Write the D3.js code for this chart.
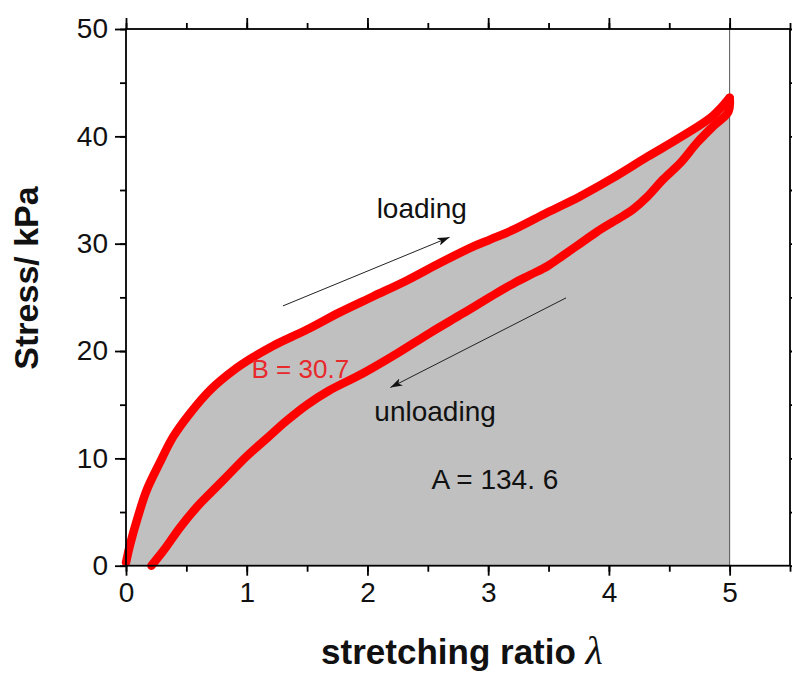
<!DOCTYPE html>
<html>
<head>
<meta charset="utf-8">
<script src="https://cdn.jsdelivr.net/npm/d3@7"></script>
<style>
  body { margin: 0; background: #fff; }
  text { font-family: "Liberation Sans", Arial, sans-serif; }
</style>
</head>
<body>
<div id="chart"></div>
<script>
const width = 792
const height = 673

// loading branch (stretching ratio, stress kPa)
const loadX = [0, 0.01, 0.03, 0.10, 0.17, 0.28, 0.39, 0.53, 0.70, 0.89, 1.05, 1.22, 1.50, 1.77, 2.05, 2.33, 2.60, 2.87, 3.02, 3.21, 3.49, 3.76, 4.03, 4.32, 4.59, 4.86, 5.00]
const loadY = [0.3, 0.8, 1.8, 4.6, 7.0, 9.6, 12.0, 14.2, 16.4, 18.2, 19.4, 20.5, 22.0, 23.6, 25.1, 26.6, 28.2, 29.7, 30.4, 31.3, 32.9, 34.4, 36.1, 38.1, 39.9, 41.9, 43.6]
// unloading branch, from lambda = 5 back down
const unloadX = [5.00, 4.99, 4.86, 4.73, 4.59, 4.45, 4.32, 4.20, 4.12, 4.03, 3.90, 3.76, 3.62, 3.49, 3.35, 3.21, 3.07, 2.79, 2.52, 2.25, 1.96, 1.68, 1.50, 1.33, 1.17, 1.00, 0.86, 0.72, 0.59, 0.45, 0.31, 0.21]
const unloadY = [43.6, 42.3, 40.9, 39.4, 37.5, 36.0, 34.4, 33.2, 32.6, 32.0, 31.1, 30.0, 28.9, 27.9, 27.1, 26.3, 25.4, 23.5, 21.7, 19.8, 17.9, 16.3, 15.0, 13.5, 11.9, 10.2, 8.6, 7.0, 5.5, 3.6, 1.4, 0]

const xTicks = [0, 1, 2, 3, 4, 5]
const yTicks = [0, 10, 20, 30, 40, 50]

// annotations: [text, lambda, stress, anchor, colour, size]
const labels = [
  ["loading", 2.45, 32.4, "middle", "#111", 28],
  ["unloading", 2.56, 13.5, "middle", "#111", 28],
  ["A = 134. 6", 2.53, 7.15, "start", "#111", 28],
  ["B = 30.7", 1.04, 17.5, "start", "#e8282a", 26]
]
const arrows = [
  [1.30, 24.2, 2.68, 30.6],
  [3.645, 24.95, 2.19, 16.6]
]

const x = d3.scaleLinear().domain([0, 5.5]).range([126, 790])
const y = d3.scaleLinear().domain([0, 50]).range([565.7, 29])

const svg = d3.select("#chart").append("svg")
    .attr("width", width)
    .attr("height", height)

svg.append("defs").append("marker")
    .attr("id", "head")
    .attr("viewBox", "0 0 12 8")
    .attr("refX", 12).attr("refY", 4)
    .attr("markerWidth", 12).attr("markerHeight", 8)
    .attr("markerUnits", "userSpaceOnUse")
    .attr("orient", "auto")
  .append("path")
    .attr("d", "M0,0L12,4L0,8L3,4Z")
    .attr("fill", "#111")

const loadPts = loadX.map((d, i) => [d, loadY[i]])
const unloadPts = unloadX.map((d, i) => [d, unloadY[i]])

// grey area under the loading curve
const area = d3.area().x(d => x(d[0])).y0(y(0)).y1(d => y(d[1]))
svg.append("path").datum(loadPts)
    .attr("d", area)
    .attr("fill", "#c0c0c0")

// vertical line at lambda = 5
svg.append("line")
    .attr("x1", x(5)).attr("x2", x(5))
    .attr("y1", y(50)).attr("y2", y(0))
    .attr("stroke", "#555").attr("stroke-width", 1)

const line = d3.line().x(d => x(d[0])).y(d => y(d[1])).curve(d3.curveCatmullRom)
;[loadPts, unloadPts].forEach(pts => {
  svg.append("path").datum(pts)
      .attr("d", line)
      .attr("fill", "none")
      .attr("stroke", "#ff0000")
      .attr("stroke-width", 8.5)
      .attr("stroke-linejoin", "round")
      .attr("stroke-linecap", "round")
})

// axes
const xMinor = d3.range(0, 5.51, 0.5)
const yMinor = d3.range(0, 50.1, 5)
const axisStyle = g => {
  g.select(".domain").remove()
  g.selectAll("line").attr("stroke", "#000").attr("stroke-width", 1.8)
  g.selectAll("text").attr("font-size", 28).attr("fill", "#111")
    .attr("font-family", "'Liberation Sans', Arial, sans-serif")
}

svg.append("g").attr("transform", `translate(0,${y(0)})`)
    .call(d3.axisBottom(x).tickValues(xMinor).tickSize(6).tickFormat(""))
    .call(axisStyle)
svg.append("g").attr("transform", `translate(0,${y(0)})`)
    .call(d3.axisBottom(x).tickValues(xTicks).tickSize(10).tickPadding(6).tickFormat(d3.format("d")))
    .call(axisStyle)
svg.append("g").attr("transform", `translate(0,${y(50)})`)
    .call(d3.axisTop(x).tickValues(xMinor).tickSize(6).tickFormat(""))
    .call(axisStyle)
svg.append("g").attr("transform", `translate(0,${y(50)})`)
    .call(d3.axisTop(x).tickValues(xTicks).tickSize(11).tickFormat(""))
    .call(axisStyle)
svg.append("g").attr("transform", `translate(${x(0)},0)`)
    .call(d3.axisLeft(y).tickValues(yMinor).tickSize(6).tickFormat(""))
    .call(axisStyle)
svg.append("g").attr("transform", `translate(${x(0)},0)`)
    .call(d3.axisLeft(y).tickValues(yTicks).tickSize(11).tickPadding(7).tickFormat(d3.format("d")))
    .call(axisStyle)
svg.append("g").attr("transform", `translate(${x(5.5)},0)`)
    .call(d3.axisRight(y).tickValues(yMinor).tickSize(6).tickFormat(""))
    .call(axisStyle)

// frame
svg.append("rect")
    .attr("x", x(0)).attr("y", y(50))
    .attr("width", x(5.5) - x(0)).attr("height", y(0) - y(50))
    .attr("fill", "none").attr("stroke", "#000").attr("stroke-width", 1.8)

// arrows
svg.selectAll("line.arrow")
    .data(arrows)
    .join("line")
    .attr("class", "arrow")
    .attr("x1", d => x(d[0])).attr("y1", d => y(d[1]))
    .attr("x2", d => x(d[2])).attr("y2", d => y(d[3]))
    .attr("stroke", "#222").attr("stroke-width", 1)
    .attr("marker-end", "url(#head)")

svg.selectAll("text.note")
    .data(labels)
    .join("text")
    .attr("class", "note")
    .attr("x", d => x(d[1])).attr("y", d => y(d[2]))
    .attr("text-anchor", d => d[3])
    .attr("fill", d => d[4])
    .attr("font-size", d => d[5])
    .text(d => d[0])

// axis titles
const xTitle = svg.append("text")
    .attr("x", 462).attr("y", 664)
    .attr("text-anchor", "middle")
    .attr("font-size", 35).attr("font-weight", "bold").attr("fill", "#111")
xTitle.append("tspan").text("stretching ratio ")
xTitle.append("tspan").text("λ")
    .attr("font-size", 40)
    .attr("font-family", "'Liberation Serif', serif")
    .attr("font-style", "italic").attr("font-weight", "normal")

svg.append("text")
    .attr("transform", "translate(38,278) rotate(-90)")
    .attr("text-anchor", "middle")
    .attr("font-size", 34).attr("font-weight", "bold").attr("fill", "#111")
    .text("Stress/ kPa")
</script>
</body>
</html>
